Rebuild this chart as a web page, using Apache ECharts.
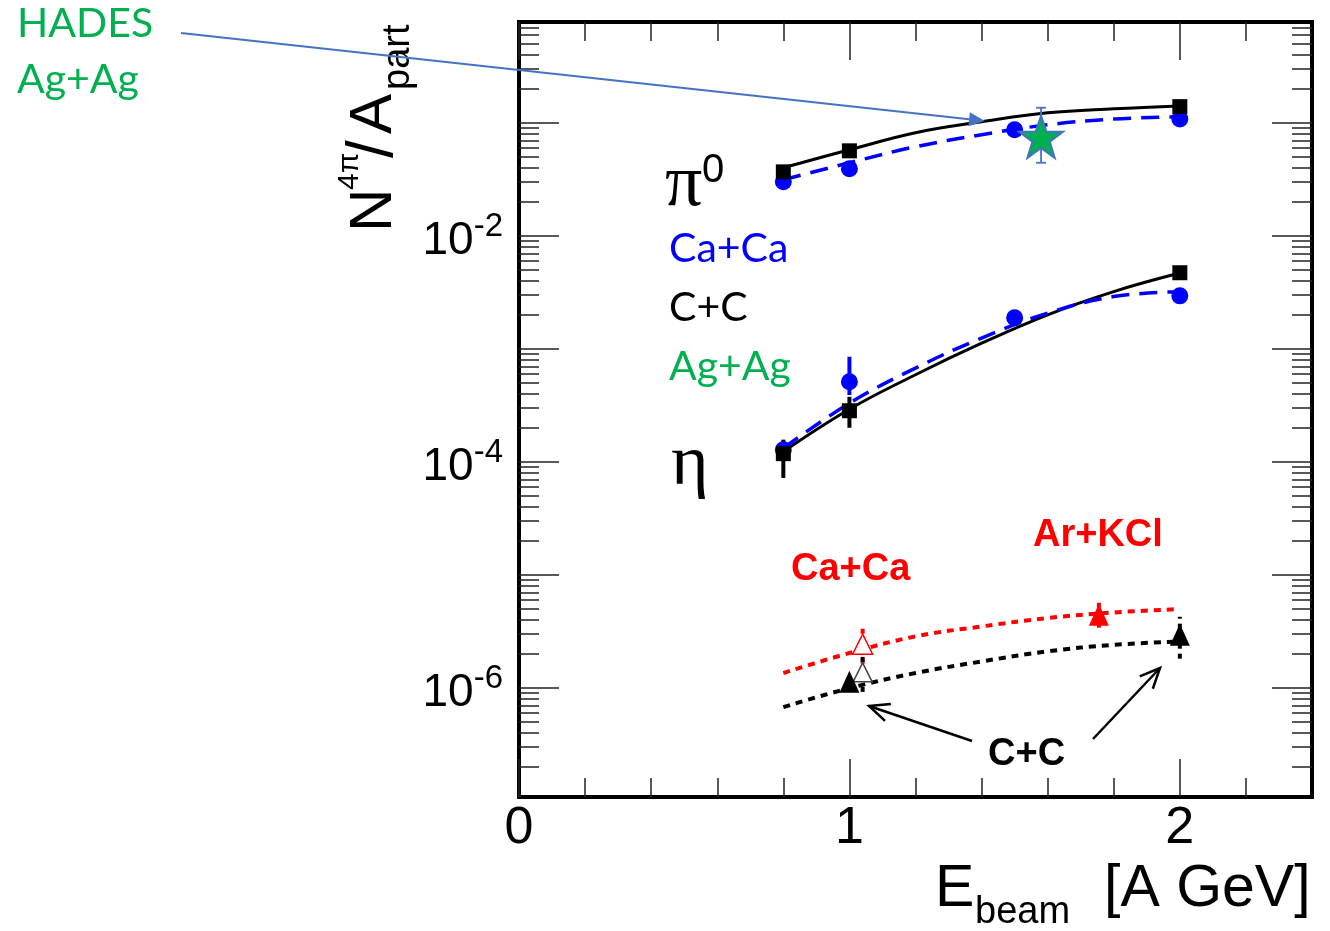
<!DOCTYPE html>
<html>
<head>
<meta charset="utf-8">
<script src="https://cdn.jsdelivr.net/npm/echarts@6/dist/echarts.min.js"></script>
<style>
  html, body { margin: 0; padding: 0; background: #fff; }
  #chart { width: 1330px; height: 931px; }
</style>
</head>
<body>
<div id="chart"></div>
<script>
// axis ranges and ticks
const xMin = 0, xMax = 2.4
const yMin = 1.08e-7, yMax = 0.78
const xLabelValues = [0, 1, 2]
const xMajorTicks = [0, 1, 2]
const xMinorTicks = [0.2, 0.4, 0.6, 0.8, 1.2, 1.4, 1.6, 1.8, 2.2]
const yLabelValues = [1e-6, 1e-4, 1e-2]
const yMajorTicks = [1e-7, 1e-6, 1e-5, 1e-4, 1e-3, 1e-2, 1e-1]
const yMinorSteps = [2, 3, 4, 5, 6, 7, 8, 9]

// pi0 yields
const pi0CCx = [0.8, 1.0, 2.0]
const pi0CCy = [0.0368, 0.0565, 0.139]
const pi0CaX = [0.8, 1.0, 1.5, 2.0]
const pi0CaY = [0.0301, 0.0392, 0.0867, 0.108]

// eta yields
const etaCCx = [0.8, 1.0, 2.0]
const etaCCy = [1.18e-4, 2.83e-4, 4.71e-3]
const etaCCerrX = [0.8, 1.0]
const etaCCerrLo = [7.2e-5, 2.0e-4]
const etaCCerrHi = [1.57e-4, 3.76e-4]
const etaCaX = [0.8, 1.0, 1.5, 2.0]
const etaCaY = [1.28e-4, 5.1e-4, 1.88e-3, 2.94e-3]
const etaCaErrX = [1.0]
const etaCaErrLo = [3.9e-4]
const etaCaErrHi = [8.5e-4]

// HADES Ag+Ag
const hadesX = [1.58]
const hadesY = [0.0752]
const hadesLo = [0.0443]
const hadesHi = [0.136]

// lowest group (triangles)
const caOpenX = [1.04]
const caOpenY = [2.43e-6]
const caOpenLo = [1.63e-6]
const caOpenHi = [3.33e-6]
const ccOpenX = [1.04]
const ccOpenY = [1.37e-6]
const ccOpenLo = [9.2e-7]
const ccOpenHi = [1.88e-6]
const ccFullX = [1.0, 2.0]
const ccFullY = [1.13e-6, 2.94e-6]
const ccFullLo = [1.0e-6, 1.81e-6]
const ccFullHi = [1.25e-6, 4.25e-6]
const arFullX = [1.755]
const arFullY = [4.43e-6]
const arFullLo = [3.4e-6]
const arFullHi = [5.77e-6]

// fitted curves, read at these beam energies
const curveX = [0.8, 1.0, 1.2, 1.4, 1.6, 1.8, 2.0]
const pi0FitCC = [0.040, 0.0577, 0.0817, 0.102, 0.1225, 0.133, 0.141]
const pi0FitCa = [0.0313, 0.0443, 0.0614, 0.0784, 0.096, 0.108, 0.113]
const etaFitCC = [1.23e-4, 2.92e-4, 5.89e-4, 1.12e-3, 2.0e-3, 3.21e-3, 4.68e-3]
const etaFitCa = [1.32e-4, 3.30e-4, 6.75e-4, 1.245e-3, 2.07e-3, 2.90e-3, 3.2e-3]
const lowFitRed = [1.35e-6, 2.03e-6, 2.85e-6, 3.49e-6, 4.14e-6, 4.64e-6, 4.97e-6]
const lowFitBlack = [6.75e-7, 9.93e-7, 1.35e-6, 1.71e-6, 2.10e-6, 2.40e-6, 2.57e-6]

const SANS = '"Liberation Sans", Arial, sans-serif'
const SERIF = '"Liberation Serif", "Times New Roman", serif'
const CAL = 'Lato, "Open Sans", sans-serif'
const BLUE = '#0000ff', RED = '#ff0000', GREEN = '#00b050', ARROW_BLUE = '#4472c4'

const yMinorTicks = []
yMajorTicks.forEach(d => yMinorSteps.forEach(m => {
  const v = +(m * d).toPrecision(3)
  if (v > yMin && v < yMax) yMinorTicks.push(v)
}))

const pairs = (xs, ys) => xs.map((x, i) => [x, ys[i]])
const triples = (xs, lo, hi) => xs.map((x, i) => [x, lo[i], hi[i]])

function errorBars(name, xs, lo, hi, color, width, dash, cap) {
  return {
    type: 'custom',
    name,
    data: triples(xs, lo, hi),
    encode: { x: 0, y: [1, 2] },
    clip: false,
    z: 3,
    silent: true,
    renderItem: (params, api) => {
      const x = api.value(0)
      const a = api.coord([x, api.value(1)])
      const b = api.coord([x, api.value(2)])
      const kids = [{
        type: 'line',
        shape: { x1: a[0], y1: a[1], x2: b[0], y2: b[1] },
        style: { stroke: color, lineWidth: width, lineDash: dash || null, fill: null }
      }]
      if (cap) {
        kids.push({ type: 'line', shape: { x1: a[0] - cap, y1: a[1], x2: a[0] + cap, y2: a[1] }, style: { stroke: color, lineWidth: width } })
        kids.push({ type: 'line', shape: { x1: b[0] - cap, y1: b[1], x2: b[0] + cap, y2: b[1] }, style: { stroke: color, lineWidth: width } })
      }
      return { type: 'group', children: kids }
    }
  }
}

function fit(name, ys, color, width, dash) {
  return {
    type: 'line',
    name,
    data: pairs(curveX, ys),
    smooth: 0.4,
    symbol: 'none',
    silent: true,
    z: 2,
    lineStyle: { color, width, type: dash }
  }
}

function points(name, xs, ys, symbol, size, style) {
  return {
    type: 'scatter',
    name,
    data: pairs(xs, ys),
    symbol,
    symbolSize: size,
    z: 4,
    silent: true,
    itemStyle: Object.assign({ opacity: 1 }, style)
  }
}

const tickStyle = { color: '#222', width: 1.5 }

function xAxisDef(position, ticks, len, labels) {
  return {
    type: 'value',
    position,
    min: xMin,
    max: xMax,
    axisLine: { show: false, onZero: false },
    splitLine: { show: false },
    axisTick: { show: true, inside: true, length: len, customValues: ticks, lineStyle: tickStyle },
    axisLabel: labels ? {
      show: true, customValues: labels, margin: 6,
      fontSize: 52, fontFamily: SANS, color: '#000'
    } : { show: false }
  }
}

function yAxisDef(position, ticks, len, labels) {
  return {
    type: 'log',
    logBase: 10,
    position,
    min: yMin,
    max: yMax,
    axisLine: { show: false, onZero: false },
    splitLine: { show: false },
    minorTick: { show: false },
    axisTick: { show: true, inside: true, length: len, customValues: ticks, lineStyle: tickStyle },
    axisLabel: labels ? {
      show: true,
      customValues: labels,
      margin: 16,
      formatter: v => '{b|10}{s|' + Math.round(Math.log10(v)) + '}',
      rich: {
        b: { fontSize: 46, fontFamily: SANS, color: '#000', padding: [12, 0, 0, 0] },
        s: { fontSize: 33, fontFamily: SANS, color: '#000', padding: [0, 0, 18, 0] }
      }
    } : { show: false }
  }
}

// annotation helpers (pixel positions of labels / arrows)
function txt(text, x, y, font, fill) {
  return { type: 'text', x, y, z: 100, silent: true,
    style: { text, font, fill, align: 'left', verticalAlign: 'middle' } }
}

function arrow(x1, y1, x2, y2, color, width, headLen, headHalf, filled) {
  const dx = x2 - x1, dy = y2 - y1
  const L = Math.sqrt(dx * dx + dy * dy)
  const ux = dx / L, uy = dy / L
  const bx = x2 - ux * headLen, by = y2 - uy * headLen
  const p1 = [bx - uy * headHalf, by + ux * headHalf]
  const p2 = [bx + uy * headHalf, by - ux * headHalf]
  const els = [{
    type: 'line', z: 90, silent: true,
    shape: { x1, y1, x2: filled ? bx : x2, y2: filled ? by : y2 },
    style: { stroke: color, lineWidth: width }
  }]
  if (filled) {
    els.push({ type: 'polygon', z: 90, silent: true, shape: { points: [[x2, y2], p1, p2] }, style: { fill: color } })
  } else {
    els.push({ type: 'polyline', z: 90, silent: true, shape: { points: [p1, [x2, y2], p2] }, style: { stroke: color, lineWidth: width, fill: null } })
  }
  return els
}

const STAR = 'path://M50,0 L61.8,34.5 L97.6,34.5 L68.8,55.9 L79.4,90.5 L50,69.1 L20.6,90.5 L31.2,55.9 L2.4,34.5 L38.2,34.5 Z'

const chart = echarts.init(document.getElementById('chart'))

chart.setOption({
  animation: false,
  backgroundColor: '#fff',
  grid: {
    left: 519, right: 18, top: 22, bottom: 134,
    show: true, borderColor: '#000', borderWidth: 4, backgroundColor: 'transparent'
  },
  xAxis: [
    xAxisDef('bottom', xMajorTicks, 38, xLabelValues),
    xAxisDef('bottom', xMinorTicks, 19, null),
    xAxisDef('top', xMajorTicks, 38, null),
    xAxisDef('top', xMinorTicks, 19, null)
  ],
  yAxis: [
    yAxisDef('left', yMajorTicks, 40, yLabelValues),
    yAxisDef('left', yMinorTicks, 20, null),
    yAxisDef('right', yMajorTicks, 40, null),
    yAxisDef('right', yMinorTicks, 20, null)
  ],
  series: [
    fit('pi0 C+C fit', pi0FitCC, '#000', 3, 'solid'),
    fit('pi0 Ca+Ca fit', pi0FitCa, BLUE, 3.5, [18, 10]),
    fit('eta C+C fit', etaFitCC, '#000', 3, 'solid'),
    fit('eta Ca+Ca fit', etaFitCa, BLUE, 3.5, [18, 10]),
    fit('low Ca+Ca fit', lowFitRed, RED, 4, [7, 6]),
    fit('low C+C fit', lowFitBlack, '#000', 4, [7, 6]),

    errorBars('eta C+C err', etaCCerrX, etaCCerrLo, etaCCerrHi, '#000', 4, null, 0),
    errorBars('eta Ca+Ca err', etaCaErrX, etaCaErrLo, etaCaErrHi, BLUE, 4, null, 0),
    errorBars('Ca+Ca open err', caOpenX, caOpenLo, caOpenHi, RED, 4, [5, 5], 0),
    errorBars('C+C open err', ccOpenX, ccOpenLo, ccOpenHi, '#000', 4, [5, 5], 0),
    errorBars('C+C err', ccFullX, ccFullLo, ccFullHi, '#000', 4, [5, 5], 0),
    errorBars('Ar+KCl err', arFullX, arFullLo, arFullHi, RED, 4, [5, 5], 0),

    points('pi0 Ca+Ca', pi0CaX, pi0CaY, 'circle', 17, { color: BLUE }),
    points('pi0 C+C', pi0CCx, pi0CCy, 'rect', 15, { color: '#000' }),
    points('eta Ca+Ca', etaCaX, etaCaY, 'circle', 17, { color: BLUE }),
    points('eta C+C', etaCCx, etaCCy, 'rect', 15, { color: '#000' }),

    points('Ca+Ca open', caOpenX, caOpenY, 'triangle', [20, 20], { color: '#fff', borderColor: RED, borderWidth: 1.5 }),
    points('C+C open', ccOpenX, ccOpenY, 'triangle', [19, 19], { color: '#fff', borderColor: '#444', borderWidth: 1.5 }),
    points('C+C', ccFullX, ccFullY, 'triangle', [20, 22], { color: '#000' }),
    points('Ar+KCl', arFullX, arFullY, 'triangle', [20, 22], { color: RED }),

    errorBars('HADES err', hadesX, hadesLo, hadesHi, ARROW_BLUE, 1.8, null, 5),
    Object.assign(points('HADES Ag+Ag', hadesX, hadesY, STAR, [44, 42], { color: GREEN, borderColor: ARROW_BLUE, borderWidth: 2 }), { z: 6 })
  ],
  graphic: [
    // y axis title, rotated
    {
      type: 'group', x: 395, y: 232, rotation: Math.PI / 2, silent: true, z: 100,
      children: [
        { type: 'text', x: 0, y: -21, style: { text: 'N', font: '60px ' + SANS, fill: '#000', align: 'left', verticalAlign: 'middle' } },
        { type: 'text', x: 42, y: -45, style: { text: '4π', font: '30px ' + SANS, fill: '#000', align: 'left', verticalAlign: 'middle' } },
        { type: 'text', x: 74, y: -21, style: { text: '/', font: '64px ' + SANS, fill: '#000', align: 'left', verticalAlign: 'middle' } },
        { type: 'text', x: 98, y: -21, style: { text: 'A', font: '60px ' + SANS, fill: '#000', align: 'left', verticalAlign: 'middle' } },
        { type: 'text', x: 142, y: 4, style: { text: 'part', font: '38px ' + SANS, fill: '#000', align: 'left', verticalAlign: 'middle' } }
      ]
    },
    // x axis title
    txt('E', 935, 890, '59px ' + SANS, '#000'),
    txt('beam', 975, 913, '38px ' + SANS, '#000'),
    txt('[A GeV]', 1104, 890, '59px ' + SANS, '#000'),

    // HADES note
    txt('HADES', 17, 24, '41px ' + CAL, GREEN),
    txt('Ag+Ag', 17, 80, '41px ' + CAL, GREEN),
    ...arrow(181, 33, 985, 121, ARROW_BLUE, 2, 16, 7, true),

    // particle / system labels
    txt('π', 665, 186, '74px ' + SERIF, '#000'),
    txt('0', 702, 171, '40px ' + SANS, '#000'),
    txt('Ca+Ca', 669, 249, '41px ' + CAL, BLUE),
    txt('C+C', 669, 308, '41px ' + CAL, '#000'),
    txt('Ag+Ag', 669, 367, '41px ' + CAL, GREEN),
    txt('η', 671, 465, '72px ' + SERIF, '#000'),

    txt('Ca+Ca', 791, 570, 'bold 38px ' + SANS, RED),
    txt('Ar+KCl', 1033, 536, 'bold 38px ' + SANS, RED),
    txt('C+C', 988, 755, 'bold 38px ' + SANS, '#000'),
    ...arrow(972, 741, 869, 706, '#000', 2.5, 20, 9, false),
    ...arrow(1093, 739, 1160, 668, '#000', 2.5, 20, 9, false)
  ]
})
</script>
</body>
</html>
